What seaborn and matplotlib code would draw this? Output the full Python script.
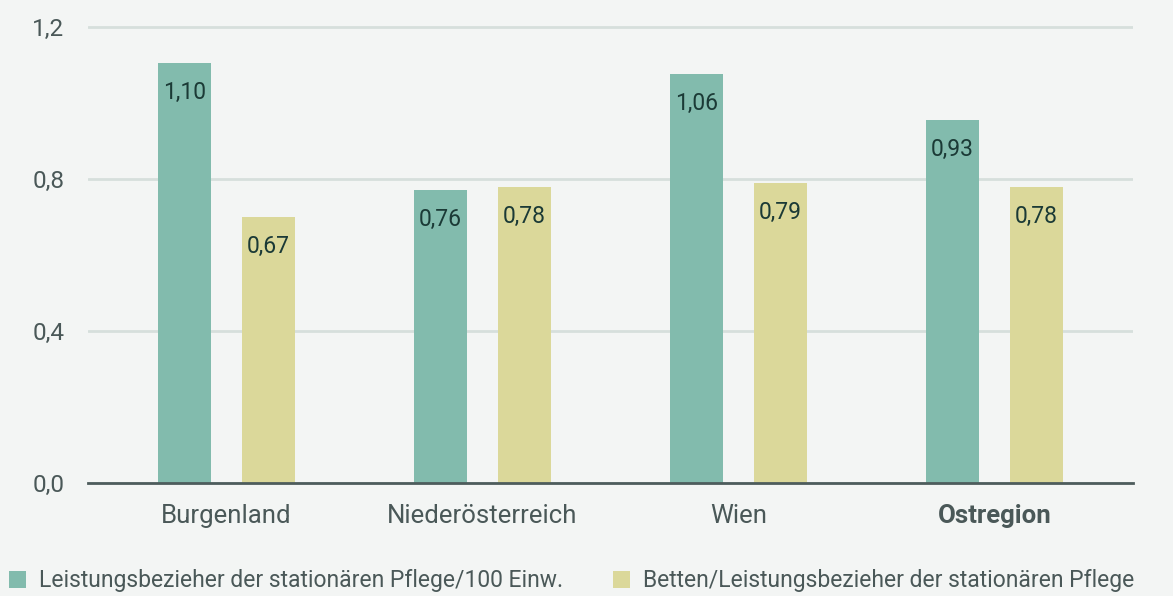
import pandas as pd
import matplotlib.pyplot as plt
import seaborn as sns
from matplotlib.patches import Patch

# data
regions = ["Burgenland", "Niederösterreich", "Wien", "Ostregion"]
series = ["Leistungsbezieher der stationären Pflege/100 Einw.",
          "Betten/Leistungsbezieher der stationären Pflege"]
pflege_100 = [1.105, 0.771, 1.076, 0.955]
betten = [0.700, 0.779, 0.789, 0.779]
pflege_lbl = ["1,10", "0,76", "1,06", "0,93"]
betten_lbl = ["0,67", "0,78", "0,79", "0,78"]
yticks = [0.0, 0.4, 0.8, 1.2]
ytick_lbl = ["0,0", "0,4", "0,8", "1,2"]

df = pd.DataFrame({
    "region": regions * 2,
    "serie": [series[0]] * 4 + [series[1]] * 4,
    "wert": pflege_100 + betten,
})

bg = "#f3f5f4"
teal = "#82bbad"
gelb = "#dbd89a"
txt = "#4a5858"
lbl_col = "#1b3a36"

sns.set_theme(style="white")
plt.rcParams["font.family"] = ["Roboto", "DejaVu Sans"]

fig = plt.figure(figsize=(11.73, 5.96), dpi=100, facecolor=bg)
ax = fig.add_axes([88 / 1173, 1 - 483 / 596, (1133 - 88) / 1173, (483 - 8) / 596])
ax.set_facecolor(bg)

sns.barplot(data=df, x="region", y="wert", hue="serie", hue_order=series,
            palette=[teal, gelb], width=0.656, gap=0.37, saturation=1,
            edgecolor="none", linewidth=0,
            legend=False, ax=ax, zorder=3)

ax.set_ylim(0, 1.25)
ax.set_xlim(-0.54, 3.54)
ax.set_yticks(yticks)
ax.set_yticklabels(ytick_lbl)
ax.yaxis.grid(True, color="#d6dfdc", linewidth=2, zorder=0)
ax.set_axisbelow(True)
for s in ["top", "right", "left"]:
    ax.spines[s].set_visible(False)
ax.spines["bottom"].set_color("#4d5c5c")
ax.spines["bottom"].set_linewidth(2)
ax.spines["bottom"].set_zorder(4)
ax.tick_params(axis="both", length=0, colors=txt)
ax.tick_params(axis="y", pad=17, labelsize=17.5)
ax.tick_params(axis="x", pad=15, labelsize=18.5)
ax.set_xlabel("")
ax.set_ylabel("")
ax.get_xticklabels()[-1].set_fontweight("bold")

# value labels inside the bar tops
for cont, lbls in zip(ax.containers, [pflege_lbl, betten_lbl]):
    for bar, l in zip(cont, lbls):
        ax.annotate(l, (bar.get_x() + bar.get_width() / 2, bar.get_height()),
                    xytext=(0, -21), textcoords="offset points",
                    ha="center", va="center", fontsize=16.5, color=lbl_col, zorder=5)

handles = [Patch(facecolor=teal, edgecolor="none"), Patch(facecolor=gelb, edgecolor="none")]
fig.legend(handles, series, loc="center left", bbox_to_anchor=(9 / 1173, 1 - 581 / 596),
           ncol=2, frameon=False, fontsize=16.5, labelcolor=txt,
           handlelength=0.74, handleheight=0.74, handletextpad=0.57,
           columnspacing=2.18, borderaxespad=0, borderpad=0)

fig.savefig("out.png", dpi=100, facecolor=bg)
